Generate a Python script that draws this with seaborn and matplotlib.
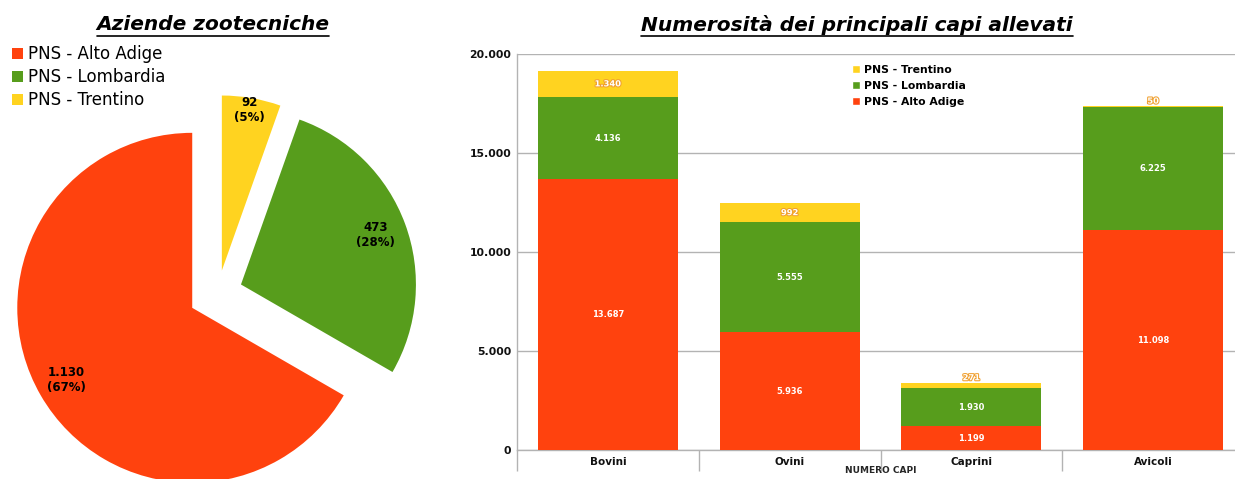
import numpy as np
import pandas as pd
import matplotlib
matplotlib.use("Agg")
import matplotlib.pyplot as plt
import matplotlib.patheffects as pe
from matplotlib.patches import Patch
from matplotlib.lines import Line2D
import seaborn as sns

# data
regions = ["PNS - Alto Adige", "PNS - Lombardia", "PNS - Trentino"]
aziende = [1130, 473, 92]
categories = ["Bovini", "Ovini", "Caprini", "Avicoli"]
alto_adige = [13687, 5936, 1199, 11098]
lombardia = [4136, 5555, 1930, 6225]
trentino = [1340, 992, 271, 50]
colors = ["#ff420e", "#579d1c", "#ffd320"]

sns.set_style("white")
plt.rcParams["font.family"] = ["DejaVu Sans"]
plt.rcParams["text.color"] = "black"


def fmt_it(v):
    return f"{int(v):,}".replace(",", ".")


fig = plt.figure(figsize=(12.35, 4.79), dpi=100)

# ---- pie ----
ax1 = fig.add_axes([0, 0, 440 / 1235, 1])
total = sum(aziende)
explode = [0.17, 0.14, 0.13]
label_dist = [0.83, 0.82, 0.93]


def autopct(p):
    v = round(p * total / 100)
    return f"{fmt_it(v)}\n({p:.0f}%)"


wedges, _, autotexts = ax1.pie(aziende, colors=colors, startangle=90, counterclock=True,
                               explode=explode, autopct=autopct, pctdistance=0.84,
                               textprops=dict(fontsize=8.5, fontweight="bold", color="black"),
                               wedgeprops=dict(linewidth=0))
# per-slice label distance
for w, t, ex, d in zip(wedges, autotexts, explode, label_dist):
    ang = np.deg2rad((w.theta1 + w.theta2) / 2)
    t.set_position(((ex + d) * np.cos(ang), (ex + d) * np.sin(ang)))
ax1.set_aspect("auto")
ax1.set_xlim(-1.246, 1.269)
ax1.set_ylim(-1.063, 1.674)
ax1.axis("off")

handles = [Patch(facecolor=c, edgecolor="none") for c in colors]
fig.legend(handles, regions, loc="upper left", bbox_to_anchor=(0.0, 0.93),
           frameon=False, fontsize=12, handlelength=0.7, handleheight=0.7,
           handletextpad=0.3, labelspacing=0.3, borderaxespad=0.3)

# ---- stacked bars ----
ax2 = fig.add_axes([517 / 1235, 29 / 479, 727 / 1235, 396 / 479])
df = pd.DataFrame({"cat": categories, "aa": alto_adige, "lo": lombardia, "tr": trentino})
df["s1"] = df["aa"]
df["s2"] = df["aa"] + df["lo"]
df["s3"] = df["s2"] + df["tr"]

for col, c in [("s3", colors[2]), ("s2", colors[1]), ("s1", colors[0])]:
    sns.barplot(data=df, x="cat", y=col, color=c, width=0.77, saturation=1,
                linewidth=0, ax=ax2, zorder=3)

for i in range(len(categories)):
    bottoms = [0, df["s1"][i], df["s2"][i]]
    vals = [alto_adige[i], lombardia[i], trentino[i]]
    for k, (b, v) in enumerate(zip(bottoms, vals)):
        y = b + v / 2 if v > 500 else b + v + 250
        t = ax2.text(i, y, fmt_it(v), ha="center", va="center", color="white",
                     fontsize=6, fontweight="bold", zorder=5)
        if k == 2:
            t.set_path_effects([pe.withStroke(linewidth=1.5, foreground="#f0a030")])

ax2.set_xlim(-0.5, 3.5)
ax2.set_ylim(0, 20000)
ax2.set_yticks([0, 5000, 10000, 15000, 20000])
ax2.set_yticklabels([fmt_it(v) for v in [0, 5000, 10000, 15000, 20000]],
                    fontsize=7.8, fontweight="bold", color="#111111")
ax2.set_xticks(range(4))
ax2.set_xticklabels(categories, fontsize=7.5, fontweight="bold", color="#111111")
ax2.set_xticks([-0.5, 0.5, 1.5, 2.5, 3.5], minor=True)
ax2.tick_params(axis="x", which="major", length=0, pad=5)
ax2.tick_params(axis="x", which="minor", bottom=True, length=15, color="#b3b3b3", width=1)
ax2.tick_params(axis="y", which="major", length=0, pad=4)
ax2.yaxis.grid(True, color="#b3b3b3", linewidth=1)
ax2.set_axisbelow(True)
for s in ["top", "right"]:
    ax2.spines[s].set_visible(False)
for s in ["left", "bottom"]:
    ax2.spines[s].set_color("#b3b3b3")
    ax2.spines[s].set_linewidth(1)
ax2.set_ylabel("")
ax2.set_xlabel("NUMERO CAPI", fontsize=6.5, fontweight="bold")
ax2.xaxis.set_label_coords(0.5, -0.041)

h2 = [Patch(facecolor=colors[2]), Patch(facecolor=colors[1]), Patch(facecolor=colors[0])]
ax2.legend(h2, [regions[2], regions[1], regions[0]], loc="upper left",
           bbox_to_anchor=(0.447, 0.997), frameon=False,
           prop=dict(weight="bold", size=7.8), handlelength=0.8, handleheight=0.8,
           handletextpad=0.3, labelspacing=0.55)

# ---- titles ----
t1 = fig.text(213 / 1235, 1 - 25 / 479, "Aziende zootecniche", ha="center", va="center",
              fontsize=14.5, fontweight="bold", fontstyle="italic")
t2 = fig.text(857 / 1235, 1 - 25 / 479, "Numerosità dei principali capi allevati",
              ha="center", va="center", fontsize=14.5, fontweight="bold", fontstyle="italic")
fig.canvas.draw()
r = fig.canvas.get_renderer()
for t in (t1, t2):
    bb = t.get_window_extent(r).transformed(fig.transFigure.inverted())
    fig.add_artist(Line2D([bb.x0, bb.x1], [1 - 36 / 479] * 2, color="black",
                          linewidth=1.2, transform=fig.transFigure))

fig.savefig("out.png", dpi=100)
